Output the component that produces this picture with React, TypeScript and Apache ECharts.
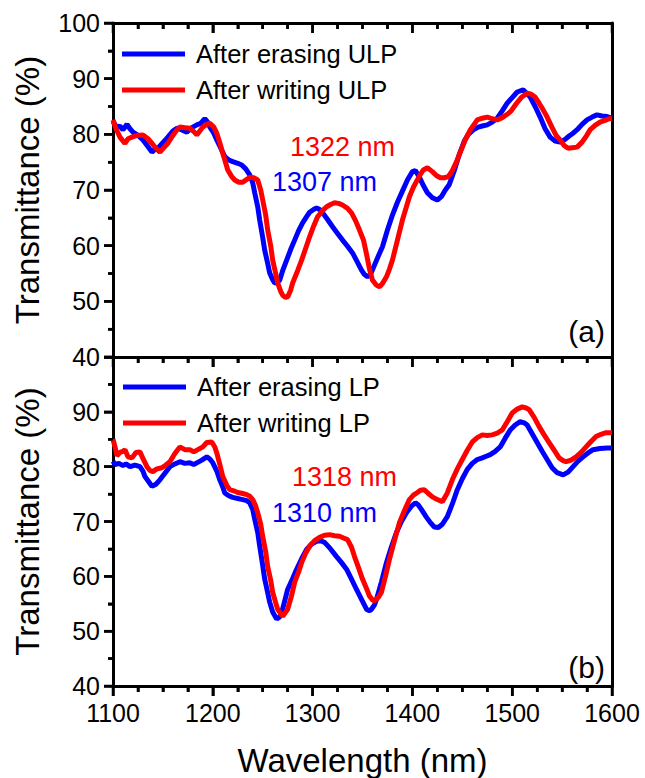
import React, { useEffect, useRef } from "react";
import * as echarts from "echarts";

// Wavelength (nm) / transmittance (%) pairs for each spectrum
const erasingULP: [number, number][] = [
  [1100, 82.3], [1104, 81.2], [1107, 81.5], [1110, 80.8], [1114, 81.8], [1117, 81.0], [1120, 80.4],
  [1125, 79.8], [1130, 79.0], [1135, 77.8], [1139, 76.8], [1142, 77.3], [1145, 77.5], [1150, 78.5],
  [1155, 79.5], [1160, 80.6], [1164, 81.1], [1169, 80.8], [1174, 80.4], [1179, 81.2], [1184, 81.7],
  [1188, 82.0], [1192, 82.8], [1195, 82.2], [1197, 81.3], [1201, 80.2], [1204, 79.0], [1208, 77.5],
  [1212, 76.0], [1216, 75.4], [1220, 75.1], [1225, 74.8], [1229, 74.5], [1233, 73.8], [1237, 72.7],
  [1240, 71.3], [1242, 69.5], [1245, 67.0], [1247, 64.6], [1250, 61.5], [1252, 59.2], [1255, 56.8],
  [1257, 55.1], [1260, 53.9], [1262, 53.3], [1265, 53.4], [1267, 53.8], [1270, 55.5], [1274, 57.4],
  [1278, 59.3], [1282, 61.0], [1286, 62.7], [1290, 64.1], [1294, 65.2], [1297, 66.0], [1301, 66.5],
  [1304, 66.8], [1307, 66.5], [1310, 65.9], [1315, 64.7], [1320, 63.4], [1325, 62.2], [1330, 61.0],
  [1335, 59.9], [1340, 58.7], [1345, 57.0], [1349, 55.6], [1352, 54.8], [1355, 54.4], [1358, 54.8],
  [1362, 56.5], [1366, 58.2], [1370, 59.8], [1375, 62.8], [1380, 65.5], [1385, 67.8], [1390, 69.8],
  [1395, 71.8], [1400, 73.3], [1403, 73.5], [1407, 72.3], [1411, 70.8], [1415, 69.5], [1420, 68.6],
  [1425, 68.2], [1429, 68.8], [1433, 70.0], [1437, 71.0], [1442, 73.5], [1447, 76.4], [1452, 78.8],
  [1456, 80.0], [1461, 80.8], [1466, 81.3], [1470, 81.5], [1475, 81.7], [1480, 82.2], [1485, 82.9],
  [1490, 84.2], [1495, 85.6], [1500, 86.6], [1505, 87.6], [1511, 88.0], [1515, 87.3], [1518, 86.7],
  [1523, 85.0], [1528, 83.1], [1533, 81.0], [1538, 79.5], [1543, 78.8], [1548, 78.6], [1553, 79.1],
  [1557, 79.7], [1561, 80.2], [1566, 81.0], [1570, 81.8], [1575, 82.6], [1580, 83.1], [1585, 83.5],
  [1590, 83.3], [1595, 83.2], [1600, 82.9],
];

const writingULP: [number, number][] = [
  [1100, 82.6], [1103, 81.0], [1107, 79.5], [1110, 78.8], [1112, 78.4], [1115, 79.2], [1119, 79.5],
  [1124, 79.8], [1130, 79.9], [1135, 79.2], [1139, 78.4], [1143, 77.5], [1147, 76.8], [1151, 77.6],
  [1155, 78.4], [1160, 79.8], [1164, 80.8], [1167, 81.3], [1172, 81.2], [1177, 81.1], [1181, 80.5],
  [1184, 79.9], [1187, 80.6], [1190, 81.3], [1194, 81.8], [1197, 82.0], [1201, 81.3], [1204, 80.2],
  [1207, 78.5], [1210, 76.6], [1213, 74.8], [1215, 73.6], [1219, 72.4], [1222, 71.8], [1226, 71.4],
  [1230, 71.4], [1234, 71.9], [1237, 72.3], [1241, 72.2], [1245, 71.8], [1248, 70.0], [1250, 68.2],
  [1253, 65.5], [1255, 62.8], [1258, 60.0], [1260, 57.4], [1263, 55.0], [1265, 53.3], [1268, 51.8],
  [1270, 51.1], [1273, 50.7], [1275, 50.8], [1278, 52.0], [1280, 53.3], [1285, 55.5], [1289, 57.4],
  [1293, 59.5], [1297, 61.6], [1301, 63.5], [1305, 65.2], [1310, 66.3], [1314, 67.0], [1318, 67.4],
  [1322, 67.7], [1326, 67.6], [1330, 67.3], [1335, 66.7], [1339, 65.9], [1343, 64.5], [1347, 62.8],
  [1351, 61.0], [1354, 58.5], [1357, 55.8], [1360, 53.8], [1364, 52.9], [1367, 52.6], [1370, 53.2],
  [1374, 54.4], [1377, 55.8], [1380, 57.4], [1385, 61.0], [1390, 64.6], [1394, 67.0], [1397, 68.8],
  [1401, 70.5], [1404, 71.5], [1408, 72.8], [1411, 73.6], [1415, 74.0], [1420, 73.3], [1424, 72.6],
  [1428, 72.2], [1432, 72.2], [1436, 72.4], [1440, 73.5], [1444, 75.0], [1448, 76.8], [1453, 79.0],
  [1458, 80.8], [1465, 82.6], [1470, 82.9], [1475, 83.1], [1480, 82.8], [1485, 82.6], [1490, 83.0],
  [1495, 83.6], [1499, 84.2], [1504, 85.5], [1509, 86.6], [1515, 87.4], [1519, 87.2], [1523, 86.7],
  [1527, 85.6], [1531, 84.4], [1535, 83.1], [1540, 81.2], [1544, 79.8], [1548, 79.0], [1552, 78.0],
  [1556, 77.5], [1560, 77.6], [1565, 77.7], [1570, 78.6], [1574, 79.6], [1578, 80.8], [1583, 81.6],
  [1588, 82.2], [1593, 82.5], [1597, 82.8], [1600, 82.9],
];

const erasingLP: [number, number][] = [
  [1100, 81.0], [1102, 80.4], [1106, 80.6], [1110, 80.2], [1113, 80.5], [1117, 80.0], [1122, 80.3],
  [1127, 80.0], [1130, 79.2], [1132, 78.2], [1136, 77.2], [1139, 76.4], [1143, 76.8], [1147, 77.6],
  [1152, 78.8], [1157, 80.0], [1162, 80.5], [1167, 80.9], [1172, 80.6], [1177, 80.7], [1181, 80.4],
  [1184, 80.7], [1189, 81.2], [1194, 81.8], [1197, 81.4], [1200, 80.7], [1204, 79.2], [1207, 77.6],
  [1210, 76.3], [1212, 75.2], [1216, 74.7], [1220, 74.4], [1225, 74.2], [1230, 74.0], [1234, 73.8],
  [1237, 73.4], [1240, 72.2], [1242, 70.4], [1245, 68.0], [1247, 65.5], [1250, 62.0], [1252, 59.5],
  [1255, 57.0], [1257, 55.3], [1260, 53.5], [1264, 52.2], [1267, 52.6], [1269, 53.4], [1272, 55.5],
  [1275, 57.6], [1280, 59.6], [1284, 61.3], [1289, 63.2], [1294, 64.9], [1299, 65.9], [1304, 66.4],
  [1308, 66.5], [1312, 66.2], [1318, 65.0], [1324, 63.6], [1329, 62.5], [1334, 61.3], [1339, 59.5],
  [1344, 57.6], [1349, 55.8], [1354, 54.0], [1357, 53.7], [1359, 54.0], [1362, 54.8], [1364, 55.8],
  [1369, 59.0], [1374, 62.5], [1379, 65.4], [1384, 68.0], [1389, 70.0], [1394, 71.6], [1399, 72.8],
  [1403, 73.4], [1406, 73.0], [1409, 72.2], [1414, 70.8], [1418, 69.8], [1422, 69.0], [1426, 68.9],
  [1430, 69.5], [1435, 70.9], [1440, 73.2], [1445, 75.8], [1450, 77.8], [1455, 79.5], [1460, 80.6],
  [1465, 81.3], [1470, 81.6], [1474, 81.9], [1478, 82.2], [1483, 82.8], [1488, 83.6], [1493, 85.2],
  [1498, 86.7], [1503, 87.6], [1508, 88.2], [1512, 88.0], [1515, 87.6], [1520, 86.0], [1525, 84.4],
  [1530, 82.8], [1535, 81.3], [1540, 79.8], [1545, 78.9], [1551, 78.5], [1556, 79.0], [1561, 80.0],
  [1566, 81.0], [1571, 81.8], [1576, 82.5], [1581, 83.1], [1588, 83.3], [1595, 83.4], [1600, 83.4],
];

const writingLP: [number, number][] = [
  [1100, 85.0], [1102, 83.6], [1104, 82.0], [1107, 82.6], [1110, 82.8], [1112, 83.1], [1115, 81.8],
  [1119, 81.6], [1123, 82.6], [1127, 82.7], [1130, 81.5], [1134, 80.0], [1137, 79.3], [1140, 79.1],
  [1144, 79.6], [1149, 79.8], [1153, 80.3], [1157, 80.9], [1162, 82.4], [1167, 83.6], [1172, 83.1],
  [1177, 83.1], [1181, 82.7], [1185, 83.1], [1190, 83.6], [1194, 84.4], [1199, 84.5], [1202, 83.6],
  [1204, 82.5], [1207, 80.4], [1210, 78.2], [1214, 76.6], [1217, 75.8], [1221, 75.6], [1225, 75.3],
  [1230, 75.1], [1234, 74.9], [1237, 74.6], [1240, 74.0], [1243, 72.8], [1245, 71.6], [1248, 69.5],
  [1250, 67.3], [1253, 64.5], [1255, 61.8], [1258, 59.3], [1260, 57.1], [1263, 55.2], [1265, 54.0],
  [1268, 53.2], [1270, 52.7], [1272, 53.2], [1275, 54.0], [1279, 56.5], [1282, 58.9], [1286, 60.8],
  [1289, 62.5], [1293, 64.2], [1297, 65.5], [1302, 66.5], [1307, 67.1], [1312, 67.5], [1317, 67.6],
  [1322, 67.4], [1327, 67.3], [1331, 67.0], [1335, 66.7], [1339, 65.3], [1342, 63.6], [1346, 61.6],
  [1350, 59.5], [1354, 57.8], [1357, 56.4], [1360, 55.7], [1362, 55.5], [1366, 56.2], [1369, 57.1],
  [1373, 60.0], [1377, 63.1], [1382, 66.5], [1387, 69.8], [1392, 72.0], [1397, 74.0], [1401, 74.8],
  [1405, 75.3], [1408, 75.7], [1412, 75.8], [1416, 75.1], [1420, 74.5], [1425, 74.0], [1430, 73.6],
  [1435, 75.2], [1440, 77.6], [1445, 79.6], [1450, 81.3], [1455, 83.0], [1460, 84.5], [1465, 85.3],
  [1470, 85.8], [1475, 85.7], [1480, 85.8], [1485, 86.1], [1490, 86.7], [1495, 88.2], [1500, 89.8],
  [1505, 90.5], [1510, 90.9], [1514, 90.7], [1517, 90.4], [1522, 89.0], [1527, 87.3], [1532, 85.8],
  [1537, 84.4], [1542, 83.0], [1547, 81.6], [1551, 81.1], [1554, 80.9], [1559, 81.2], [1564, 81.8],
  [1569, 82.6], [1574, 83.6], [1579, 84.6], [1584, 85.5], [1589, 85.9], [1594, 86.2], [1600, 86.2],
];

// Tick positions on the wavelength and transmittance scales
const xMajorTicks = [1100, 1200, 1300, 1400, 1500, 1600];
const xMinorTicks = [
  1125, 1150, 1175, 1225, 1250, 1275, 1325, 1350, 1375, 1425, 1450, 1475, 1525, 1550, 1575,
];
const yMajorTicks = [40, 50, 60, 70, 80, 90, 100];
const yMinorTicks = [45, 55, 65, 75, 85, 95];

const topLegend = ["After erasing ULP", "After writing ULP"];
const bottomLegend = ["After erasing LP", "After writing LP"];
const topPeaks = ["1322 nm", "1307 nm"];
const bottomPeaks = ["1318 nm", "1310 nm"];
const panelLabels = ["(a)", "(b)"];

const BLUE = "#0000ff";
const RED = "#ff0000";
const FONT = "'Liberation Sans', Arial, Helvetica, sans-serif";

const tick = (inside: boolean, length: number) => ({
  show: true,
  inside,
  length,
  lineStyle: { color: "#000", width: 2.5 },
});
const minor = (splitNumber: number, length: number) => ({
  show: true,
  splitNumber,
  length,
  lineStyle: { color: "#000", width: 2.5 },
});

const xBase = (gridIndex: number): any => ({
  type: "value",
  gridIndex,
  min: 1100,
  max: 1600,
  interval: 100,
  splitLine: { show: false },
  axisLine: { show: true, onZero: false, lineStyle: { color: "#000", width: 3 } },
});
const yBase = (gridIndex: number): any => ({
  type: "value",
  gridIndex,
  min: 40,
  max: 100,
  interval: 10,
  splitLine: { show: false },
  axisLine: { show: true, onZero: false, lineStyle: { color: "#000", width: 3 } },
});

const spectrum = (name: string, data: [number, number][], color: string, xi: number, yi: number): any => ({
  type: "line",
  name,
  data,
  xAxisIndex: xi,
  yAxisIndex: yi,
  showSymbol: false,
  symbol: "none",
  lineStyle: { color, width: 5 },
  itemStyle: { color },
  silent: true,
  z: 3,
});

// Short tick strokes placed through the axis scales; (dx, dy) is the stroke direction in pixels
const tickMarks = (xi: number, yi: number, points: [number, number][], dx: number, dy: number): any => ({
  type: "custom",
  xAxisIndex: xi,
  yAxisIndex: yi,
  data: points,
  clip: false,
  silent: true,
  z: 4,
  renderItem: (_params: any, api: any) => {
    const p = api.coord([api.value(0), api.value(1)]);
    return {
      type: "line",
      shape: { x1: p[0], y1: p[1], x2: p[0] + dx, y2: p[1] + dy },
      style: { stroke: "#000", lineWidth: 2.5 },
    };
  },
});

export default function App() {
  const ref = useRef<HTMLDivElement>(null);

  useEffect(() => {
    if (!ref.current) return;
    const chart = echarts.init(ref.current, null, { renderer: "svg" });

    const lab = { color: "#000", fontSize: 25, fontFamily: FONT };
    const nameStyle = { color: "#000", fontSize: 33, fontFamily: FONT };
    const legendCommon = {
      orient: "vertical",
      icon: "rect",
      itemWidth: 63,
      itemHeight: 5,
      itemGap: 6,
      selectedMode: false,
      textStyle: { color: "#000", fontSize: 25.5, fontFamily: FONT, lineHeight: 30, padding: [0, 0, 0, 6] },
    };
    const plain = (v: number) => String(v);

    const onX = (vals: number[], y: number): [number, number][] => vals.map((v) => [v, y]);
    const onY = (vals: number[]): [number, number][] => vals.map((v) => [1100, v]);

    chart.setOption({
      animation: false,
      grid: [
        { left: 113, top: 23, width: 499, height: 334 },
        { left: 113, top: 357, width: 499, height: 331 },
      ],
      legend: [
        { ...legendCommon, data: topLegend, left: 117, top: 34 },
        { ...legendCommon, data: bottomLegend, left: 118, top: 367 },
      ],
      xAxis: [
        // upper panel: lower edge ticks point down, upper edge ticks point inward
        { ...xBase(0), position: "bottom", axisTick: tick(false, 10), minorTick: minor(4, 6), axisLabel: { show: false } },
        { ...xBase(0), position: "top", axisTick: tick(true, 10), minorTick: minor(4, 6), axisLabel: { show: false } },
        {
          ...xBase(1),
          position: "bottom",
          axisTick: tick(false, 10),
          minorTick: minor(4, 6),
          axisLabel: { ...lab, margin: 14, formatter: plain },
          name: "Wavelength (nm)",
          nameLocation: "middle",
          nameGap: 58,
          nameTextStyle: nameStyle,
        },
      ],
      yAxis: [
        {
          ...yBase(0),
          position: "left",
          axisTick: tick(false, 9),
          minorTick: minor(2, 5),
          axisLabel: { ...lab, margin: 13, formatter: plain },
          name: "Transmittance (%)",
          nameLocation: "middle",
          nameGap: 69,
          nameTextStyle: nameStyle,
        },
        { ...yBase(0), position: "right", axisTick: { show: false }, axisLabel: { show: false } },
        {
          ...yBase(1),
          position: "left",
          axisTick: tick(false, 9),
          minorTick: minor(2, 5),
          // the top value is shared with the panel above, so it stays unlabelled here
          axisLabel: { ...lab, margin: 13, formatter: (v: number) => (v === 100 ? "" : String(v)) },
          name: "Transmittance (%)",
          nameLocation: "middle",
          nameGap: 69,
          nameTextStyle: nameStyle,
        },
        { ...yBase(1), position: "right", axisTick: { show: false }, axisLabel: { show: false } },
      ],
      series: [
        spectrum(topLegend[0], erasingULP, BLUE, 0, 0),
        spectrum(topLegend[1], writingULP, RED, 0, 0),
        spectrum(bottomLegend[0], erasingLP, BLUE, 2, 2),
        spectrum(bottomLegend[1], writingLP, RED, 2, 2),
        tickMarks(0, 0, onX(xMajorTicks, 40), 0, 10),
        tickMarks(0, 0, onX(xMinorTicks, 40), 0, 6),
        tickMarks(0, 0, onX(xMajorTicks, 100), 0, 10),
        tickMarks(0, 0, onX(xMinorTicks, 100), 0, 6),
        tickMarks(0, 0, onY(yMajorTicks), -9, 0),
        tickMarks(0, 0, onY(yMinorTicks), -5, 0),
        tickMarks(2, 2, onX(xMajorTicks, 40), 0, 10),
        tickMarks(2, 2, onX(xMinorTicks, 40), 0, 6),
        tickMarks(2, 2, onY(yMajorTicks), -9, 0),
        tickMarks(2, 2, onY(yMinorTicks), -5, 0),
      ],
      graphic: [
        { type: "text", left: 290, top: 133, style: { text: topPeaks[0], fill: RED, fontSize: 27, fontFamily: FONT } },
        { type: "text", left: 272, top: 168, style: { text: topPeaks[1], fill: BLUE, fontSize: 27, fontFamily: FONT } },
        { type: "text", left: 292, top: 463, style: { text: bottomPeaks[0], fill: RED, fontSize: 27, fontFamily: FONT } },
        { type: "text", left: 272, top: 499, style: { text: bottomPeaks[1], fill: BLUE, fontSize: 27, fontFamily: FONT } },
        { type: "text", right: 40, top: 316, style: { text: panelLabels[0], fill: "#000", fontSize: 30, fontFamily: FONT } },
        { type: "text", right: 40, top: 652, style: { text: panelLabels[1], fill: "#000", fontSize: 30, fontFamily: FONT } },
      ],
    });

    return () => chart.dispose();
  }, []);

  return <div ref={ref} style={{ position: "absolute", left: 0, top: 0, width: 645, height: 778 }} />;
}
